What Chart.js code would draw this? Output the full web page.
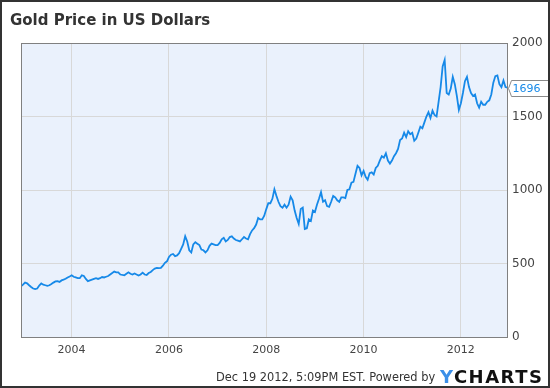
<!DOCTYPE html>
<html>
<head>
<meta charset="utf-8">
<script src="https://cdn.jsdelivr.net/npm/chart.js@4.4.1/dist/chart.umd.min.js"></script>
<style>
    html, body { margin: 0; padding: 0; background: #fff; }
    #frame {
        position: relative; width: 550px; height: 388px;
        box-sizing: border-box; border: 2px solid #333; overflow: hidden;
        font-family: "DejaVu Sans", sans-serif;
    }
    #chart { position: absolute; left: 0; top: 0; }
    #title {
        position: absolute; left: 8px; top: 9px;
        font-size: 15px; font-weight: bold; color: #333;
    }
    #footer {
        position: absolute; left: 214px; top: 368px;
        font-size: 11.4px; color: #333; white-space: nowrap;
    }
    #logo {
        position: absolute; left: 438px; top: 364px;
        font-size: 18px; font-weight: bold; letter-spacing: 1.5px; color: #111;
    }
    #logo span { color: #3b8fe8; }
</style>
</head>
<body>
<div id="frame">
    <canvas id="chart" width="550" height="388"></canvas>
    <div id="title">Gold Price in US Dollars</div>
    <div id="footer">Dec 19 2012, 5:09PM EST. Powered by</div>
    <div id="logo"><span>Y</span>CHARTS</div>
</div>
<script>
// semi-monthly gold price (USD/oz)
const startPrice = [345]; // Dec 2002
const prices2003 = [356, 370, 365, 352, 340, 330, 326, 330, 350, 364, 356, 352, 348, 352, 360, 370, 378, 380, 375, 385, 390, 396, 405, 412];
const prices2004 = [420, 410, 405, 400, 400, 420, 415, 395, 380, 385, 390, 395, 400, 395, 400, 408, 405, 410, 415, 425, 435, 445, 440, 440];
const prices2005 = [425, 422, 420, 430, 440, 430, 425, 432, 425, 418, 425, 438, 425, 422, 435, 442, 455, 465, 470, 468, 470, 485, 505, 515];
const prices2006 = [545, 560, 565, 550, 555, 570, 600, 630, 685, 650, 590, 575, 630, 645, 635, 625, 595, 590, 575, 590, 620, 635, 630, 625];
const prices2007 = [625, 640, 665, 675, 650, 660, 680, 685, 670, 660, 655, 650, 665, 680, 670, 665, 700, 725, 740, 765, 810, 800, 800, 825];
const prices2008 = [870, 910, 910, 940, 1005, 960, 920, 890, 880, 900, 880, 900, 955, 930, 860, 810, 770, 870, 880, 735, 740, 800, 790, 860];
const prices2009 = [850, 900, 940, 985, 920, 930, 890, 885, 920, 960, 950, 930, 920, 950, 950, 945, 1000, 1005, 1050, 1055, 1110, 1165, 1150, 1100];
const prices2010 = [1130, 1090, 1070, 1115, 1120, 1105, 1150, 1165, 1200, 1230, 1220, 1250, 1200, 1180, 1200, 1230, 1250, 1280, 1340, 1350, 1390, 1360, 1400, 1380];
const prices2011 = [1390, 1335, 1350, 1390, 1430, 1420, 1460, 1500, 1530, 1490, 1540, 1510, 1500, 1600, 1700, 1840, 1885, 1660, 1650, 1690, 1770, 1720, 1640, 1545];
const prices2012 = [1590, 1660, 1740, 1770, 1700, 1660, 1640, 1650, 1590, 1560, 1600, 1580, 1580, 1600, 1610, 1650, 1730, 1775, 1780, 1720, 1700, 1745, 1700, 1696];

const yearTicks = [2004, 2006, 2008, 2010, 2012];
const priceTicks = [0, 500, 1000, 1500, 2000];

const firstDate = 2002.96; // Dec 19 2002, as a fractional year
const prices = [].concat(startPrice, prices2003, prices2004, prices2005, prices2006,
    prices2007, prices2008, prices2009, prices2010, prices2011, prices2012);
const points = prices.map((p, i) => ({ x: firstDate + i / 24, y: p }));

const LINE = '#1689e8';
const GRID = '#d8d8d8';

const plotFrame = {
    id: 'plotFrame',
    beforeDraw(chart) {
        const a = chart.chartArea, ctx = chart.ctx;
        ctx.save();
        ctx.fillStyle = '#eaf1fc';
        ctx.fillRect(a.left, a.top, a.right - a.left, a.bottom - a.top);
        ctx.restore();
    },
    afterDraw(chart) {
        const a = chart.chartArea, ctx = chart.ctx;
        ctx.save();
        ctx.strokeStyle = '#808080';
        ctx.lineWidth = 1;
        ctx.strokeRect(a.left + 0.5, a.top + 0.5, a.right - a.left - 1, a.bottom - a.top);

        // last value flag on the right axis
        const last = prices[prices.length - 1];
        const y = Math.round(chart.scales.y.getPixelForValue(last)) + 0.5;
        const x0 = a.right + 0.5, x1 = x0 + 3, x2 = 547.5;
        ctx.beginPath();
        ctx.moveTo(x0, y);
        ctx.lineTo(x1, y - 8);
        ctx.lineTo(x2, y - 8);
        ctx.lineTo(x2, y + 8);
        ctx.lineTo(x1, y + 8);
        ctx.closePath();
        ctx.fillStyle = '#fff';
        ctx.fill();
        ctx.strokeStyle = '#8a8a8a';
        ctx.stroke();
        ctx.fillStyle = LINE;
        ctx.font = '11px "DejaVu Sans"';
        ctx.textBaseline = 'middle';
        ctx.fillText(String(last), x1 + 1, y + 0.5);
        ctx.restore();
    }
};

new Chart(document.getElementById('chart'), {
    type: 'line',
    data: {
        datasets: [{
            data: points,
            borderColor: LINE,
            borderWidth: 1.8,
            pointRadius: 0,
            tension: 0,
            fill: false
        }]
    },
    options: {
        responsive: false,
        animation: false,
        layout: { padding: { left: 19, top: 41, right: 0, bottom: 0 } },
        plugins: { legend: { display: false }, tooltip: { enabled: false } },
        scales: {
            x: {
                type: 'linear',
                min: firstDate,
                max: 2012.97,
                afterBuildTicks: (s) => { s.ticks = yearTicks.map(v => ({ value: v })); },
                afterFit: (s) => { s.height = 53; },
                grid: { color: GRID, drawTicks: false },
                border: { display: false },
                ticks: {
                    padding: 7,
                    color: '#444',
                    font: { family: 'DejaVu Sans', size: 11 },
                    callback: (v) => String(v)
                }
            },
            y: {
                position: 'right',
                min: 0,
                max: 2000,
                afterBuildTicks: (s) => { s.ticks = priceTicks.map(v => ({ value: v })); },
                afterFit: (s) => { s.width = 44; },
                grid: { color: GRID, drawTicks: false },
                border: { display: false },
                ticks: {
                    padding: 4,
                    color: '#444',
                    font: { family: 'DejaVu Sans', size: 12 },
                    callback: (v) => String(v)
                }
            }
        }
    },
    plugins: [plotFrame]
});
</script>
</body>
</html>
